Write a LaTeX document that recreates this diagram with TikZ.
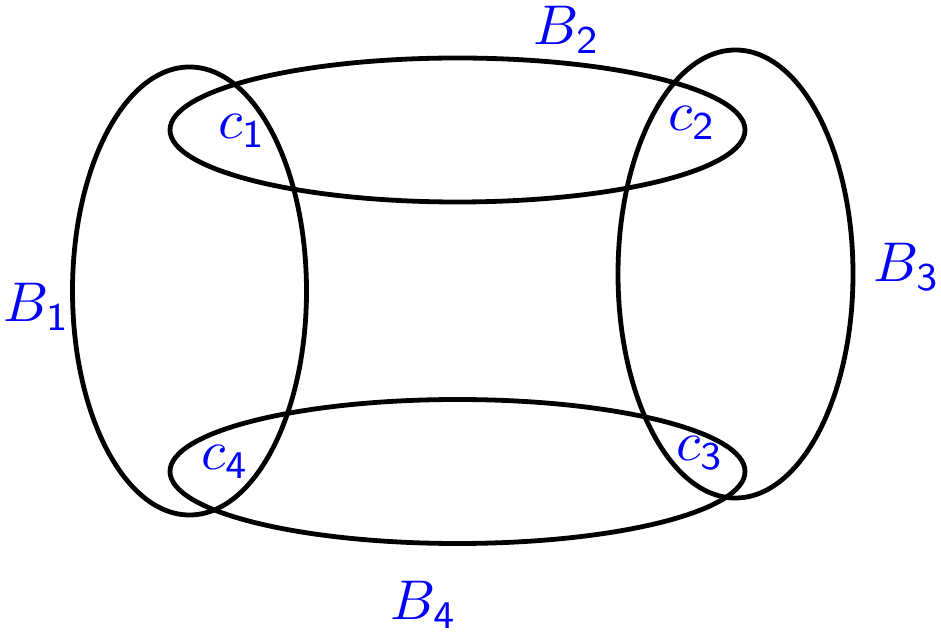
\documentclass[tikz,border=0pt]{standalone}
\usepackage{graphicx}
\usetikzlibrary{shapes.geometric}
\newcommand{\biglab}[1]{\scalebox{2.8}{$#1$}}
\begin{document}
\begin{tikzpicture}[x=0.5pt,y=-0.5pt,
  blob/.style={ellipse,draw=black,line width=2.4pt,inner sep=0pt,minimum width=#1},
  lab/.style={text=blue,inner sep=0pt}]
\useasboundingbox (0,0) rectangle (941,635);
\node[blob=117pt,minimum height=224pt] (b1) at (189.5,291) {};
\node[blob=287.5pt,minimum height=72pt] (b2) at (457.5,130) {};
\node[blob=117.5pt,minimum height=224pt] (b3) at (735.5,274) {};
\node[blob=287.5pt,minimum height=72pt] (b4) at (457.5,471.5) {};
\node[lab] (l1) at (37,307) {\biglab{B_{\mathsf{1}}}};
\node[lab] (l2) at (567,30) {\biglab{B_{\mathsf{2}}}};
\node[lab] (l3) at (907,267) {\biglab{B_{\mathsf{3}}}};
\node[lab] (l4) at (424,605) {\biglab{B_{\mathsf{4}}}};
\node[lab] (c1) at (242,131) {\biglab{c_{\mathsf{1}}}};
\node[lab] (c2) at (692,123) {\biglab{c_{\mathsf{2}}}};
\node[lab] (c3) at (700,453) {\biglab{c_{\mathsf{3}}}};
\node[lab] (c4) at (225,462) {\biglab{c_{\mathsf{4}}}};
\end{tikzpicture}
\end{document}
